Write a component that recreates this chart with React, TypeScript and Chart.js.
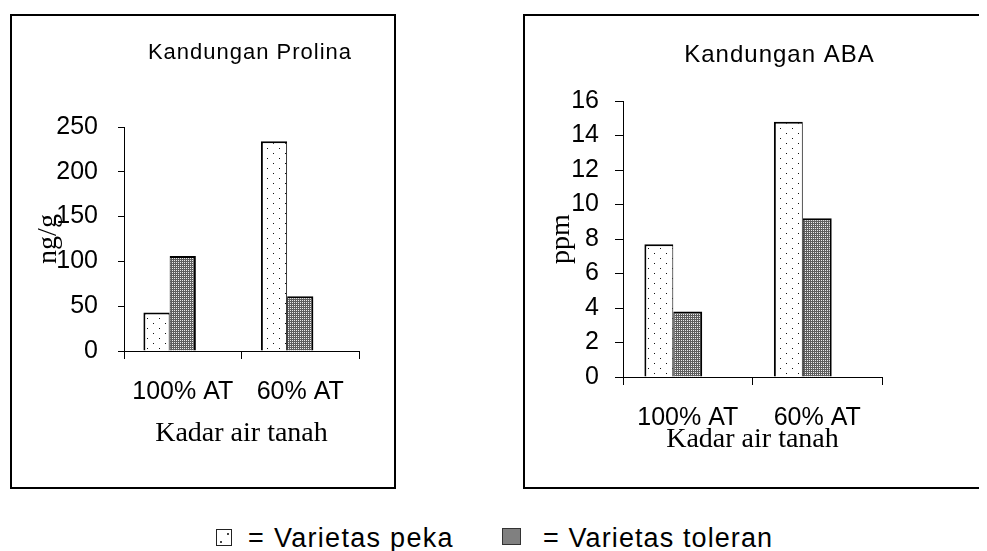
import React, { useEffect, useRef } from "react";
import { Chart, registerables } from "chart.js";

Chart.register(...registerables);

const SANS = "'Liberation Sans', Arial, Helvetica, sans-serif";
const SERIF = "'Liberation Serif', 'Times New Roman', Times, serif";

// ---- data ----
const categories = ["100% AT", "60% AT"];
const seriesNames = ["Varietas peka", "Varietas toleran"];
const prolinaPeka = [43, 234];
const prolinaToleran = [106, 61];
const abaPeka = [7.7, 14.8];
const abaToleran = [3.8, 9.2];
const prolinaTicks = [0, 50, 100, 150, 200, 250];
const abaTicks = [0, 2, 4, 6, 8, 10, 12, 14, 16];
const prolinaTitle = "Kandungan Prolina";
const abaTitle = "Kandungan ABA";
const prolinaUnit = "ng/g";
const abaUnit = "ppm";
const xAxisTitle = "Kadar air tanah";

function makePekaPattern(ctx: CanvasRenderingContext2D) {
  const c = document.createElement("canvas");
  c.width = 12;
  c.height = 10;
  const g = c.getContext("2d")!;
  g.fillStyle = "#ffffff";
  g.fillRect(0, 0, 12, 10);
  g.fillStyle = "#111111";
  g.fillRect(3, 2, 1, 1);
  g.fillRect(9, 7, 1, 1);
  return ctx.createPattern(c, "repeat")!;
}

function makeTolPattern(ctx: CanvasRenderingContext2D) {
  const c = document.createElement("canvas");
  c.width = 2;
  c.height = 2;
  const g = c.getContext("2d")!;
  g.fillStyle = "#5e5e5e";
  g.fillRect(0, 0, 2, 2);
  g.fillStyle = "#ececec";
  g.fillRect(0, 0, 1, 1);
  return ctx.createPattern(c, "repeat")!;
}

const titlePlacer = {
  id: "titlePlacer",
  afterLayout(chart: any, _args: any, opts: any) {
    const tb = chart.titleBlock;
    if (!tb || opts.cx == null) return;
    const w = tb.right - tb.left;
    tb.left = opts.cx - w / 2;
    tb.right = opts.cx + w / 2;
    if (!tb.__spaced) {
      const orig = tb.draw.bind(tb);
      tb.draw = (area: any) => {
        const ctx = chart.ctx;
        ctx.save();
        (ctx as any).letterSpacing = opts.spacing || "0px";
        orig(area);
        ctx.restore();
      };
      tb.__spaced = true;
    }
  },
};

type Spec = {
  w: number;
  h: number;
  title: string;
  titleSize: number;
  titleTop: number;
  titleBottom: number;
  titleCx: number;
  peka: number[];
  toleran: number[];
  yTicks: number[];
  yTitle: string;
  yTitleTop: number;
  yTitleBottom: number;
  yTickLen: number;
  yTickPad: number;
  padRight: number;
  xTickPad: number;
  xTitleTop: number;
  xTitleBottom: number;
};

function BarPanel({ spec }: { spec: Spec }) {
  const ref = useRef<HTMLCanvasElement | null>(null);
  useEffect(() => {
    const canvas = ref.current!;
    const ctx = canvas.getContext("2d")!;
    const peka = makePekaPattern(ctx);
    const tol = makeTolPattern(ctx);
    const ticks = spec.yTicks;
    const chart = new Chart(ctx, {
      type: "bar",
      data: {
        labels: categories,
        datasets: [
          {
            label: seriesNames[0],
            data: spec.peka,
            backgroundColor: peka,
            borderColor: "#000",
            borderWidth: { top: 2, left: 2, right: 1, bottom: 0 },
            barPercentage: 1,
            categoryPercentage: 0.67,
          },
          {
            label: seriesNames[1],
            data: spec.toleran,
            backgroundColor: tol,
            borderColor: "#000",
            borderWidth: { top: 2, left: 1, right: 2, bottom: 0 },
            barPercentage: 1,
            categoryPercentage: 0.67,
          },
          {
            label: "",
            data: categories.map(() => null),
            backgroundColor: "rgba(0,0,0,0)",
            borderWidth: 0,
            barPercentage: 1,
            categoryPercentage: 0.67,
          },
        ],
      } as any,
      options: {
        responsive: false,
        animation: false,
        devicePixelRatio: 1,
        layout: { padding: { left: 0, right: spec.padRight, top: 0, bottom: 0 } },
        plugins: {
          legend: { display: false },
          tooltip: { enabled: false },
          title: {
            display: true,
            text: spec.title,
            color: "#000",
            font: { family: SANS, size: spec.titleSize, weight: "normal", lineHeight: 1.2 },
            padding: { top: spec.titleTop, bottom: spec.titleBottom },
          },
          titlePlacer: { cx: spec.titleCx, spacing: "1px" },
        } as any,
        scales: {
          x: {
            type: "category",
            offset: true,
            grid: {
              display: true,
              drawOnChartArea: false,
              drawTicks: true,
              tickLength: 8,
              color: "#000",
              offset: true,
              lineWidth: 1,
            },
            border: { display: true, color: "#000", width: 1 },
            ticks: {
              color: "#000",
              font: { family: SANS, size: 25, lineHeight: 1.2 },
              padding: spec.xTickPad,
              maxRotation: 0,
              autoSkip: false,
            },
            title: {
              display: true,
              text: xAxisTitle,
              color: "#000",
              font: { family: SERIF, size: 28, lineHeight: 1.2 },
              padding: { top: spec.xTitleTop, bottom: spec.xTitleBottom },
            },
          },
          y: {
            min: ticks[0],
            max: ticks[ticks.length - 1],
            afterBuildTicks: (scale: any) => {
              scale.ticks = ticks.map((v) => ({ value: v }));
            },
            grid: {
              display: true,
              drawOnChartArea: false,
              drawTicks: true,
              tickLength: spec.yTickLen,
              color: "#000",
              lineWidth: 1,
            },
            border: { display: true, color: "#000", width: 1 },
            ticks: {
              color: "#000",
              font: { family: SANS, size: 25, lineHeight: 1.2 },
              padding: spec.yTickPad,
              autoSkip: false,
            },
            title: {
              display: true,
              text: spec.yTitle,
              color: "#000",
              font: { family: SERIF, size: 28, lineHeight: 1.2 },
              padding: { top: spec.yTitleTop, bottom: spec.yTitleBottom },
            },
          },
        },
      } as any,
      plugins: [titlePlacer as any],
    });
    return () => chart.destroy();
  }, [spec]);
  return (
    <canvas
      ref={ref}
      width={spec.w}
      height={spec.h}
      style={{ display: "block", width: spec.w, height: spec.h }}
    />
  );
}

const leftSpec: Spec = {
  w: 382,
  h: 471,
  title: prolinaTitle,
  titleSize: 22,
  titleTop: 23.5,
  titleBottom: 61.1,
  titleCx: 238,
  peka: prolinaPeka,
  toleran: prolinaToleran,
  yTicks: prolinaTicks,
  yTitle: prolinaUnit,
  yTitleTop: 20.2,
  yTitleBottom: -29.5,
  yTickLen: 6,
  yTickPad: 20,
  padRight: 35,
  xTickPad: 18,
  xTitleTop: -8,
  xTitleBottom: 36.4,
};

const rightSpec: Spec = {
  w: 476,
  h: 471,
  title: abaTitle,
  titleSize: 24,
  titleTop: 24.6,
  titleBottom: 31.6,
  titleCx: 254.5,
  peka: abaPeka,
  toleran: abaToleran,
  yTicks: abaTicks,
  yTitle: abaUnit,
  yTitleTop: 20.2,
  yTitleBottom: -23.6,
  yTickLen: 8,
  yTickPad: 16,
  padRight: 119,
  xTickPad: 18,
  xTitleTop: -28,
  xTitleBottom: 30.4,
};

const legendText: React.CSSProperties = {
  position: "absolute",
  fontFamily: SANS,
  fontSize: 27,
  lineHeight: "27px",
  color: "#000",
  whiteSpace: "nowrap",
};

export default function App() {
  return (
    <div
      style={{
        position: "relative",
        width: 979,
        height: 543,
        overflow: "hidden",
        background: "#fff",
      }}
    >
      <div
        style={{
          position: "absolute",
          left: 2,
          top: 6,
          width: 386,
          height: 475,
          border: "2px solid #000",
          boxSizing: "border-box",
        }}
      >
        <BarPanel spec={leftSpec} />
      </div>
      <div
        style={{
          position: "absolute",
          left: 515,
          top: 6,
          width: 480,
          height: 475,
          border: "2px solid #000",
          boxSizing: "border-box",
        }}
      >
        <BarPanel spec={rightSpec} />
      </div>
      {/* legend */}
      <div
        style={{
          position: "absolute",
          left: 208,
          top: 521,
          width: 16,
          height: 17,
          border: "1.5px solid #222",
          boxSizing: "border-box",
          background: "#fff",
        }}
      >
        <div style={{ position: "absolute", right: 2, top: 3, width: 2, height: 2, background: "#444" }} />
        <div style={{ position: "absolute", left: 3, bottom: 2, width: 2, height: 2, background: "#444" }} />
      </div>
      <div style={{ ...legendText, left: 240, top: 517, letterSpacing: "1.3px" }}>= {seriesNames[0]}</div>
      <div
        style={{
          position: "absolute",
          left: 494,
          top: 520,
          width: 19,
          height: 17,
          border: "1.5px solid #333",
          boxSizing: "border-box",
          background: "#808080",
        }}
      />
      <div style={{ ...legendText, left: 535, top: 517, letterSpacing: "1.1px" }}>= {seriesNames[1]}</div>
    </div>
  );
}
